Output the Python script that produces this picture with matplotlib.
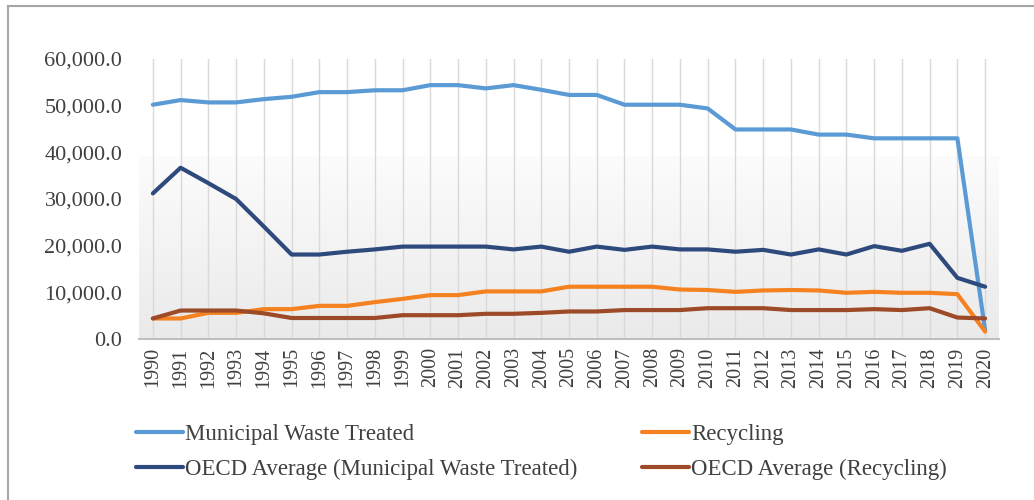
import numpy as np
import matplotlib.pyplot as plt
from matplotlib.lines import Line2D
from matplotlib.colors import LinearSegmentedColormap
from matplotlib.ticker import FuncFormatter

plt.rcParams['font.family'] = ['Liberation Serif', 'DejaVu Serif']

years = list(range(1990, 2021))

municipal = [50200, 51200, 50700, 50700, 51400, 51900, 52900, 52900, 53300, 53300,
             54400, 54400, 53700, 54400, 53400, 52300, 52300, 50200, 50200, 50200,
             49400, 44900, 44900, 44900, 43800, 43800, 43000, 43000, 43000, 43000,
             1900]
recycling = [4400, 4400, 5600, 5600, 6400, 6400, 7100, 7100, 7900, 8600,
             9400, 9400, 10200, 10200, 10200, 11200, 11200, 11200, 11200, 10600,
             10500, 10100, 10400, 10500, 10400, 9900, 10100, 9900, 9900, 9600,
             1600]
oecd_municipal = [31200, 36700, 33400, 30000, 24100, 18100, 18100, 18700, 19200, 19800,
                  19800, 19800, 19800, 19200, 19800, 18700, 19800, 19100, 19800, 19200,
                  19200, 18700, 19100, 18100, 19200, 18100, 19900, 18900, 20400, 13100,
                  11200]
oecd_recycling = [4400, 6100, 6100, 6100, 5500, 4500, 4500, 4500, 4500, 5100,
                  5100, 5100, 5400, 5400, 5600, 5900, 5900, 6200, 6200, 6200,
                  6600, 6600, 6600, 6200, 6200, 6200, 6400, 6200, 6600, 4600,
                  4400]

series = [
    ("Municipal Waste Treated", municipal, "#5B9BD5"),
    ("Recycling", recycling, "#F58220"),
    ("OECD Average (Municipal Waste Treated)", oecd_municipal, "#2E4A7D"),
    ("OECD Average (Recycling)", oecd_recycling, "#9C4A28"),
]

fig = plt.figure(figsize=(10.34, 5.0), dpi=100)
ax = fig.add_axes([139 / 1034, 1 - 339 / 500, 860 / 1034, 280 / 500])

# soft grey fill in the lower part of the plot area
grad = LinearSegmentedColormap.from_list("bg", ["#eaeaea", "#fcfcfc"])
ax.imshow(np.linspace(0, 1, 256).reshape(-1, 1), cmap=grad, aspect="auto",
          origin="lower", extent=(1989.5, 2020.5, 0, 39000), zorder=0)

for label, vals, color in series:
    ax.plot(years, vals, color=color, lw=3, label=label, zorder=3,
            solid_joinstyle="round", solid_capstyle="round")

ax.set_xlim(1989.5, 2020.5)
ax.set_ylim(0, 60000)
ax.set_xticks(years)
ax.set_xticklabels([str(y) for y in years], rotation=90)
ax.set_yticks(range(0, 60001, 10000))
ax.yaxis.set_major_formatter(FuncFormatter(lambda v, p: f"{v:,.1f}"))
ax.tick_params(axis="both", length=0, colors="#404040")
ax.tick_params(axis="x", labelsize=14.5, pad=6)
ax.tick_params(axis="y", labelsize=16, pad=12)
ax.grid(axis="x", color="#d9d9d9", lw=1)
ax.set_axisbelow(True)
for side in ["top", "right", "left"]:
    ax.spines[side].set_visible(False)
ax.spines["bottom"].set_color("#bfbfbf")
ax.spines["bottom"].set_linewidth(1.5)

# outer frame (top and left edges)
fig.add_artist(Line2D([7.5 / 1034, 1.0], [1 - 5.5 / 500] * 2, color="#a6a6a6", lw=1.5))
fig.add_artist(Line2D([7.5 / 1034] * 2, [0, 1 - 5.5 / 500], color="#a6a6a6", lw=1.5))

handles, labels = ax.get_legend_handles_labels()
order = [0, 2, 1, 3]
fig.legend([handles[i] for i in order], [labels[i] for i in order],
           loc="upper left", bbox_to_anchor=(136 / 1034, 1 - 424 / 500), ncol=2,
           frameon=False, fontsize=16.5, handlelength=2.05, handletextpad=0.1,
           columnspacing=2.8, labelspacing=0.62, borderpad=0, borderaxespad=0,
           labelcolor="#404040")

fig.savefig("out.png", dpi=100, facecolor="white")
